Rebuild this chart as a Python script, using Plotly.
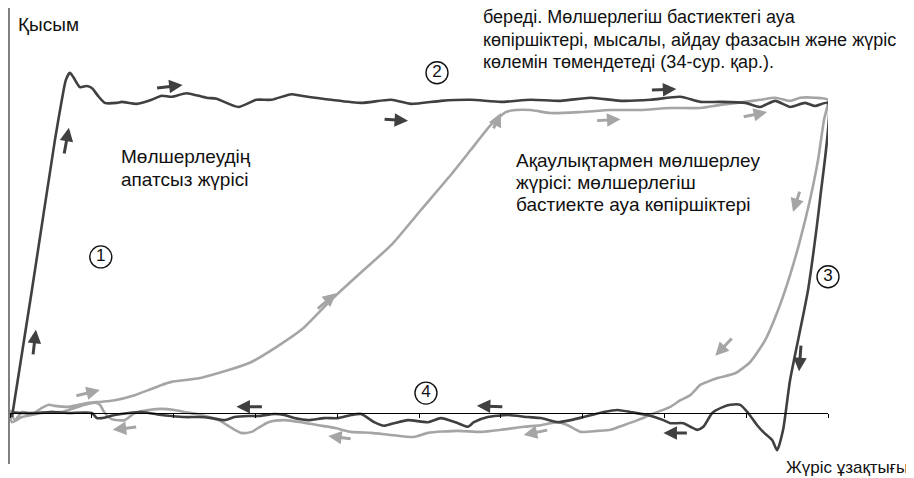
import plotly.graph_objects as go

# normal cycle (dark line): stroke in %, pressure in bar
normal_stroke = [0.24, 2.68, 5.49, 6.34, 6.83, 7.32, 7.80, 8.54, 9.39, 10.0, 10.85, 11.59, 13.05, 13.66,
                 15.49, 17.32, 18.54, 19.76, 21.59, 24.02, 25.24, 27.93, 30.12, 31.95, 34.39, 35.61,
                 39.27, 42.93, 46.59, 49.02, 52.68, 56.34, 60.0, 63.66, 67.32, 70.98, 74.63, 78.29,
                 81.95, 84.39, 86.83, 89.88, 91.71, 93.54, 95.37, 97.20, 98.41, 100.0,
                 99.02, 97.56, 95.37, 94.51, 93.78, 93.17, 92.07, 91.34, 90.24, 89.27, 88.05, 87.20,
                 85.85, 84.76, 84.02, 83.17, 82.32, 80.73, 79.88, 77.93, 75.85, 74.27, 72.56, 70.12,
                 68.54, 66.95, 64.88, 63.29, 60.85, 58.41, 56.71, 55.98, 54.76, 52.68, 51.10, 48.66,
                 46.95, 45.73, 44.51, 42.93, 41.71, 40.12, 38.41, 36.46, 34.76, 33.54, 32.32, 30.37,
                 29.15, 27.44, 26.22, 24.63, 23.05, 21.34, 19.76, 18.54, 16.10, 14.51, 12.80, 11.22,
                 10.61, 10.0, 7.20, 5.12, 3.05, 1.46, 0.24]
normal_pressure = [-0.08, 2.41, 5.35, 6.14, 6.53, 6.67, 6.57, 6.39, 6.41, 6.37, 6.20, 6.08, 6.08, 6.10,
                   6.06, 6.14, 6.22, 6.20, 6.27, 6.18, 6.16, 6.00, 6.14, 6.14, 6.25, 6.22,
                   6.14, 6.08, 6.14, 6.06, 6.12, 6.14, 6.10, 6.14, 6.12, 6.18, 6.12, 6.14,
                   6.20, 6.10, 6.10, 6.08, 6.00, 6.12, 6.00, 6.08, 6.02, 6.08,
                   4.18, 2.41, 0.65, -0.33, -0.73, -0.53, -0.37, -0.24, 0.0, 0.16, 0.16, 0.12,
                   0.0, -0.27, -0.33, -0.27, -0.20, -0.20, -0.14, -0.04, 0.02, 0.06, 0.02, -0.08,
                   -0.14, -0.18, -0.10, -0.08, -0.04, -0.08, -0.18, -0.27, -0.20, -0.10, -0.18, -0.14,
                   -0.20, -0.25, -0.18, -0.02, -0.04, -0.10, -0.10, -0.14, -0.10, -0.04, -0.02, -0.06,
                   -0.06, -0.08, -0.14, -0.10, -0.08, -0.08, -0.06, -0.04, 0.02, 0.0, -0.04, -0.10,
                   -0.10, 0.0, 0.0, 0.02, 0.0, 0.0, 0.02]

# faulty cycle with air bubbles (gray line)
bubble_stroke = [0.0, 0.61, 1.46, 2.68, 3.90, 4.76, 5.49, 7.20, 8.41, 9.63, 11.22, 12.80, 15.24, 16.95,
                 18.54, 19.76, 23.41, 29.51, 35.61, 39.27, 42.93, 46.59, 50.24, 53.90, 56.34, 58.78,
                 60.61, 61.83, 63.66, 66.10, 69.76, 73.41, 77.07, 80.73, 84.39, 86.83, 89.88, 91.71,
                 93.54, 95.37, 96.59, 98.41, 100.0,
                 99.51, 98.78, 97.80, 96.59, 95.37, 93.90, 92.32, 90.49, 88.66, 86.59, 85.24, 84.39,
                 83.17, 81.95, 80.73, 79.15, 77.93, 76.71, 75.0, 73.41, 71.83, 69.76, 68.17, 66.95,
                 64.88, 62.80, 60.0, 57.56, 54.76, 51.10, 49.39, 46.59, 44.15, 41.71, 39.63, 37.68,
                 35.61, 33.54, 31.59, 29.51, 28.29, 27.07, 25.49, 23.41, 21.34, 20.12, 18.54, 16.95,
                 15.24, 14.02, 12.44, 11.59, 10.98, 10.37, 9.15, 7.93, 6.34, 4.76, 1.46, 0.24, 0.0]
bubble_pressure = [0.06, -0.14, 0.02, -0.02, 0.10, 0.16, 0.14, 0.12, 0.16, 0.20, 0.22, 0.25, 0.35, 0.45,
                   0.55, 0.61, 0.69, 1.00, 1.63, 2.22, 2.76, 3.29, 3.98, 4.67, 5.16, 5.65,
                   5.90, 5.94, 5.94, 5.88, 5.90, 5.94, 5.94, 5.98, 5.98, 6.04, 6.10, 6.14,
                   6.18, 6.12, 6.18, 6.18, 6.14,
                   5.75, 4.96, 4.18, 3.39, 2.71, 2.02, 1.43, 1.00, 0.78, 0.69, 0.61, 0.55,
                   0.35, 0.25, 0.12, 0.02, -0.06, -0.14, -0.24, -0.33, -0.35, -0.37, -0.24, -0.18,
                   -0.24, -0.27, -0.33, -0.37, -0.35, -0.39, -0.47, -0.43, -0.39, -0.37, -0.29, -0.24,
                   -0.18, -0.14, -0.18, -0.37, -0.39, -0.29, -0.14, -0.04, 0.02, 0.06, 0.08, 0.06,
                   0.0, -0.14, -0.12, 0.0, 0.16, 0.20, 0.16, 0.10, 0.02, 0.02, -0.08, -0.18, 0.0]

# direction arrows: (tail stroke, tail pressure, head stroke, head pressure)
normal_arrows = [(2.80, 1.12, 3.17, 1.63), (6.59, 5.06, 7.20, 5.59), (17.80, 6.37, 21.10, 6.43),
                 (45.61, 5.76, 48.66, 5.73), (78.29, 6.33, 81.46, 6.35), (100.61, 5.20, 100.61, 4.67),
                 (96.71, 1.35, 96.46, 0.82), (82.93, -0.39, 79.88, -0.39), (60.37, 0.12, 57.07, 0.14),
                 (30.98, 0.12, 27.68, 0.12)]
bubble_arrows = [(7.93, 0.33, 10.98, 0.45), (37.44, 2.02, 39.88, 2.35), (59.02, 5.55, 60.0, 5.88),
                 (71.59, 5.73, 74.63, 5.76), (89.51, 5.80, 92.56, 5.90), (96.59, 4.37, 95.73, 3.94),
                 (88.41, 1.49, 86.22, 1.12), (65.85, -0.33, 62.80, -0.43), (41.83, -0.51, 38.90, -0.45),
                 (15.61, -0.27, 12.56, -0.33)]

# phase numbers
phase_labels = ['1', '2', '3', '4']
phase_stroke = [11.1, 52.2, 100.0, 50.85]
phase_pressure = [3.06, 6.67, 2.67, 0.39]

x_ticks = [0, 10, 20, 30, 40, 50, 60, 70, 80, 90, 100]
y_ticks = [-1, 0, 1, 2, 3, 4, 5, 6, 7]
y_min, y_max = -1, 7.94

normal_text = ['Мөлшерлеудің', 'апатсыз жүрісі']
bubble_text = ['Ақаулықтармен мөлшерлеу', 'жүрісі: мөлшерлегіш', 'бастиекте ауа көпіршіктері']
top_text = ['береді. Мөлшерлегіш бастиектегі ауа',
            'көпіршіктері, мысалы, айдау фазасын және жүріс',
            'көлемін төмендетеді (34-сур. қар.).']

DARK = '#404040'
GRAY = '#a5a5a5'
FONT = 'Liberation Sans, Arial, sans-serif'
FS = 19


def text_lines(lines, x, y_first, step, size=FS):
    out = []
    for i, line in enumerate(lines):
        out.append(dict(x=x, y=y_first - i * step, xref='x', yref='y', text=line, showarrow=False,
                        xanchor='left', yanchor='middle', font=dict(size=size, color='#111111')))
    return out


def arrow_list(arrows, color):
    out = []
    for tx, ty, hx, hy in arrows:
        out.append(dict(x=hx, y=hy, ax=tx, ay=ty, xref='x', yref='y', axref='x', ayref='y',
                        text='', showarrow=True, arrowhead=2, arrowsize=0.9, arrowwidth=3,
                        arrowcolor=color, standoff=0, startstandoff=0))
    return out


fig = go.Figure()

fig.add_trace(go.Scatter(x=bubble_stroke, y=bubble_pressure, mode='lines',
                         line=dict(color=GRAY, width=2.6, shape='spline', smoothing=0.6),
                         hoverinfo='skip', showlegend=False))
fig.add_trace(go.Scatter(x=normal_stroke, y=normal_pressure, mode='lines',
                         line=dict(color=DARK, width=2.6, shape='spline', smoothing=0.6),
                         hoverinfo='skip', showlegend=False))
fig.add_trace(go.Scatter(x=phase_stroke, y=phase_pressure, mode='markers+text', text=phase_labels,
                         textposition='middle center', textfont=dict(size=17, color='#111111', family=FONT),
                         marker=dict(symbol='circle', size=22, color='white', line=dict(color='#111111', width=1.4)),
                         cliponaxis=False, hoverinfo='skip', showlegend=False))

annotations = []
annotations += arrow_list(normal_arrows, DARK)
annotations += arrow_list(bubble_arrows, GRAY)
annotations += text_lines(normal_text, 13.3, 5.03, 0.45)
annotations += text_lines(bubble_text, 61.6, 4.96, 0.44)
annotations += text_lines(top_text, 57.6, 7.76, 0.44, size=18)
annotations.append(dict(x=0.73, y=7.61, xref='x', yref='y', text='Қысым', showarrow=False,
                        xanchor='left', yanchor='middle', font=dict(size=FS, color='#111111')))
annotations.append(dict(x=1.1, y=-0.007, xref='paper', yref='paper', text='Жүріс ұзақтығы',
                        showarrow=False, xanchor='right', yanchor='middle',
                        font=dict(size=17, color='#111111')))

# the page puts the figure 8px in from the top-left corner
fig.update_layout(
    width=906, height=470,
    margin=dict(l=2, r=86, t=0, b=14),
    paper_bgcolor='white', plot_bgcolor='white',
    font=dict(family=FONT, size=FS, color='#111111'),
    annotations=annotations,
    xaxis=dict(range=[0, 100], anchor='free', position=-y_min / (y_max - y_min), showline=True,
               linecolor='black', linewidth=1, ticks='outside', tickvals=x_ticks, ticklen=4,
               tickcolor='black', showticklabels=False, showgrid=False, zeroline=False, automargin=False),
    yaxis=dict(range=[y_min, y_max], showline=True, linecolor='#808080', linewidth=1.5, ticks='outside',
               tickvals=y_ticks, ticklen=5, tickcolor='#333333', showticklabels=False,
               showgrid=False, zeroline=False, automargin=False),
)

fig.write_html("out.html")
